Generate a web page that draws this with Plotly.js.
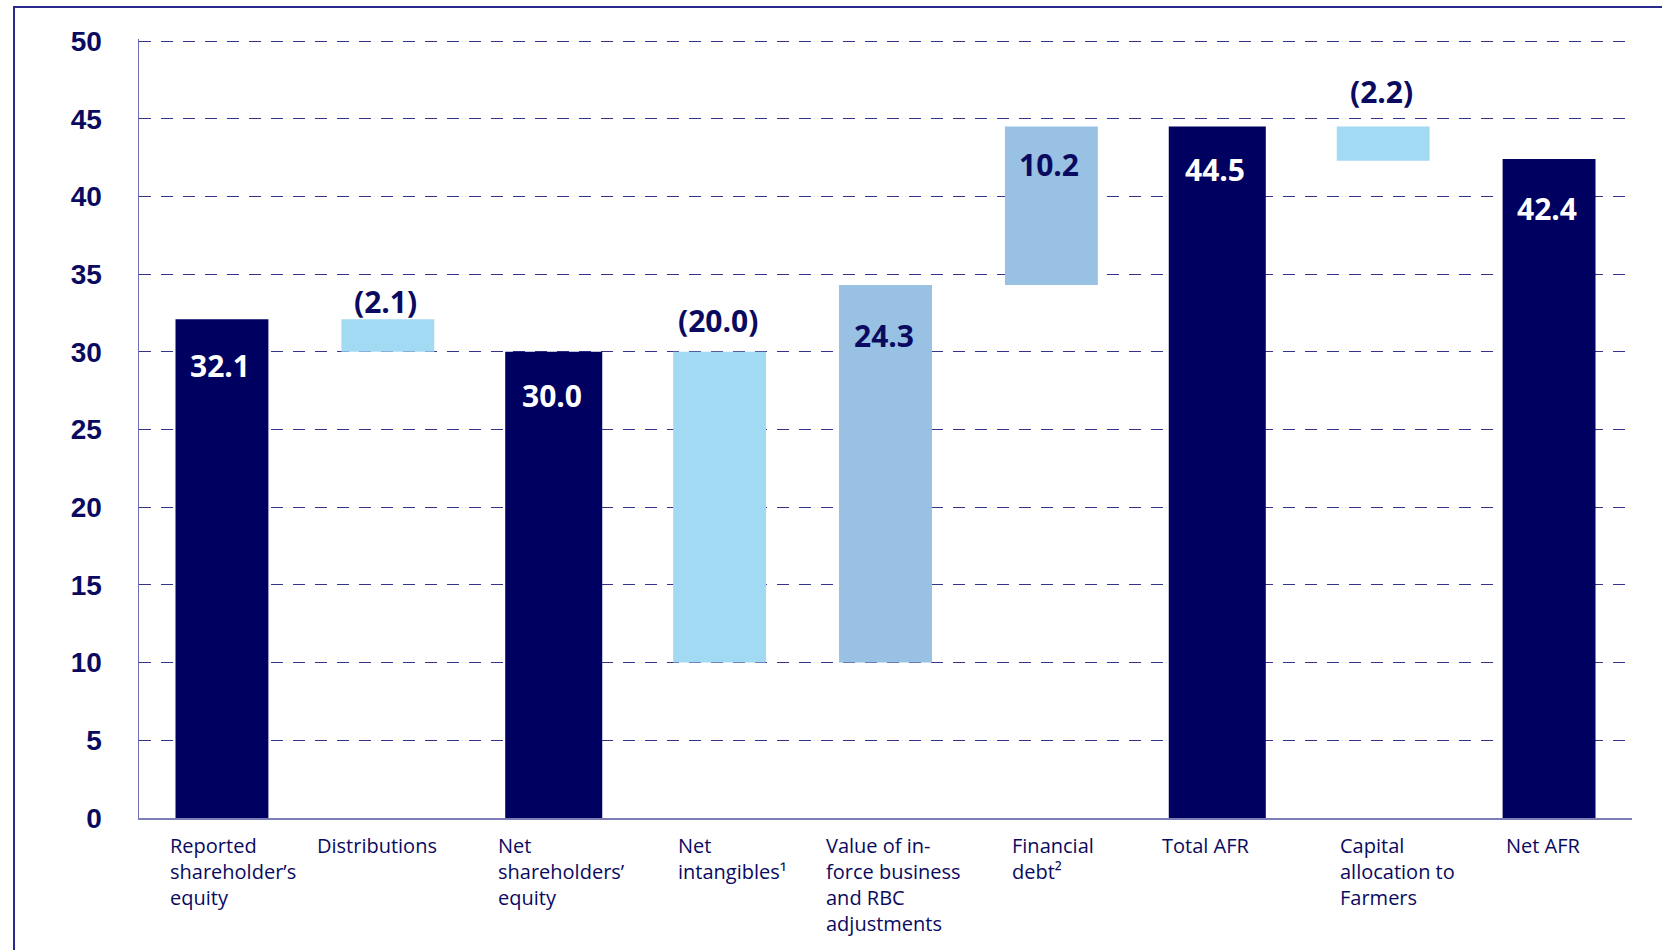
<!DOCTYPE html>
<html>
<head>
<meta charset="utf-8">
<script src="https://cdn.plot.ly/plotly-3.0.1.min.js"></script>
<style>
  html, body { margin: 0; padding: 0; background: #ffffff; overflow: hidden; }
  #chart { width: 1662px; height: 950px; }
  #frame { position: absolute; left: 13px; top: 6px; width: 1700px; height: 1000px;
           border: 2px solid #2a2a8c; pointer-events: none; box-sizing: border-box; }
</style>
</head>
<body>
<div id="chart"></div>
<div id="frame"></div>
<script>
// ---- Data ----
const categories = [
  'Reported<br>shareholder’s<br>equity',
  'Distributions',
  'Net<br>shareholders’<br>equity',
  'Net<br>intangibles¹',
  'Value of in-<br>force business<br>and RBC<br>adjustments',
  'Financial<br>debt²',
  'Total AFR',
  'Capital<br>allocation to<br>Farmers',
  'Net AFR'
];
const values = [32.1, -2.1, 30.0, -20.0, 24.3, 10.2, 44.5, -2.2, 42.4];
const kinds  = ['total', 'delta', 'total', 'delta', 'delta', 'delta', 'total', 'delta', 'total'];
const yTicks = [0, 5, 10, 15, 20, 25, 30, 35, 40, 45, 50];

// ---- Styles ----
const NAVY = '#000060';
const LIGHT = '#a3daf3';
const MID = '#98c1e3';
const TEXT = '#0a0a60';
const labelOffsetPx = [-54, -73, -58, -44, -62, -41, -57, -45, -45];
const valueLabelShift = [-24, -5, -21, 9, -28, -16, -21, 12, -27];
const barWidths = [0.56, 0.56, 0.585, 0.56, 0.56, 0.56, 0.585, 0.56, 0.56];

// ---- Build waterfall geometry from data ----
let running = 0;
const bases = [], heights = [], colors = [], tops = [];
values.forEach((v, i) => {
  if (kinds[i] === 'total') {
    bases.push(0); heights.push(v); colors.push(NAVY); tops.push(v);
    running = v;
  } else if (v >= 0) {
    bases.push(running); heights.push(v); colors.push(MID); tops.push(running + v);
    running += v;
  } else {
    bases.push(running + v); heights.push(-v); colors.push(LIGHT); tops.push(running);
    running += v;
  }
});

const fmt = v => v < 0 ? '(' + Math.abs(v).toFixed(1) + ')' : v.toFixed(1);

const annotations = [];
values.forEach((v, i) => {
  const isTotal = kinds[i] === 'total';
  const inside = isTotal || v >= 0;
  annotations.push({
    x: categories[i], y: tops[i], xref: 'x', yref: 'y',
    text: fmt(v), showarrow: false,
    xanchor: 'center', yanchor: inside ? 'top' : 'bottom',
    xshift: -2,
    yshift: valueLabelShift[i],
    font: { family: 'Open Sans', size: 30, weight: 700, color: isTotal ? '#ffffff' : TEXT }
  });
});

// category labels, left-aligned
categories.forEach((c, i) => {
  annotations.push({
    x: categories[i], y: 0, xref: 'x', yref: 'paper',
    text: c, showarrow: false, xanchor: 'left', yanchor: 'top', align: 'left',
    xshift: labelOffsetPx[i], yshift: -12,
    font: { family: 'Open Sans', size: 20, color: TEXT }
  });
});

const trace = {
  type: 'bar',
  x: categories,
  y: heights,
  base: bases,
  width: barWidths,
  marker: { color: colors, line: { width: 0 } },
  hoverinfo: 'skip'
};

const layout = {
  width: 1662, height: 950,
  margin: { l: 139, r: 30, t: 39, b: 132 },
  paper_bgcolor: '#ffffff', plot_bgcolor: '#ffffff',
  showlegend: false,
  xaxis: {
    type: 'category', range: [-0.5, 8.5],
    showticklabels: false, ticks: '',
    showline: true, linecolor: '#7d7db8', linewidth: 2,
    showgrid: false, zeroline: false, fixedrange: true
  },
  yaxis: {
    range: [0, 50.13], tickvals: yTicks, ticktext: yTicks.map(String),
    showgrid: true, gridcolor: '#34348a', gridwidth: 1, griddash: '12px,10px',
    showline: true, linecolor: '#6f6fb0', linewidth: 1.5,
    zeroline: false, ticks: '',
    ticklabelstandoff: 30,
    tickfont: { family: 'Liberation Sans', size: 28, weight: 700, color: TEXT },
    fixedrange: true
  },
  annotations: annotations
};

Plotly.newPlot('chart', [trace], layout, { displayModeBar: false, staticPlot: true });
</script>
</body>
</html>
